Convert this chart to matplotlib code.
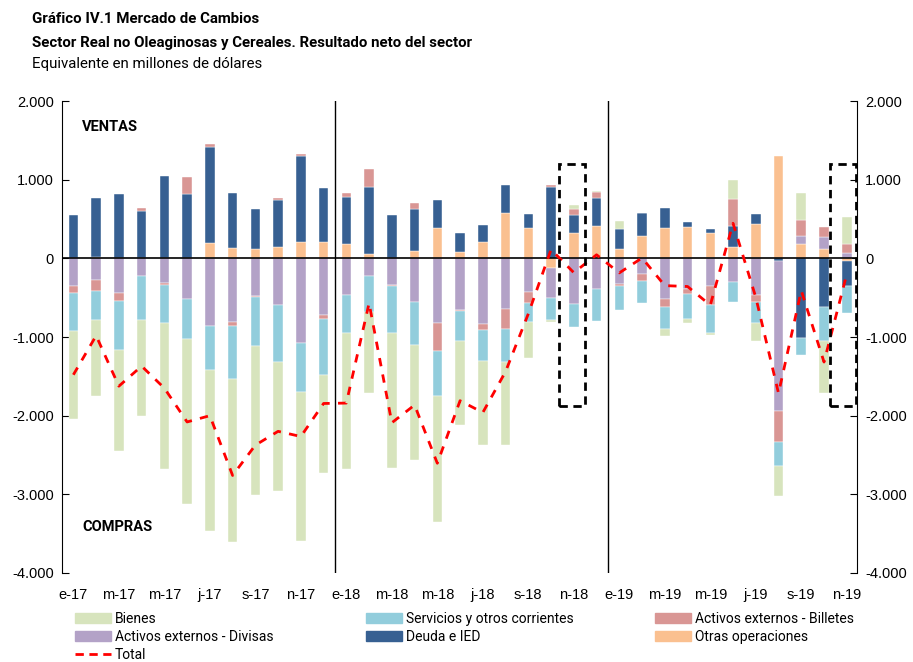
import numpy as np
import matplotlib
matplotlib.use("Agg")
import matplotlib.pyplot as plt
from matplotlib.patches import Patch, Rectangle
from matplotlib.lines import Line2D

# months e-17 .. n-19
months = ["e-17", "f-17", "m-17", "a-17", "m-17", "j-17", "j-17", "a-17", "s-17", "o-17", "n-17", "d-17",
          "e-18", "f-18", "m-18", "a-18", "m-18", "j-18", "j-18", "a-18", "s-18", "o-18", "n-18", "d-18",
          "e-19", "f-19", "m-19", "a-19", "m-19", "j-19", "j-19", "a-19", "s-19", "o-19", "n-19"]

otras = [0, 15, 0, 0, 0, 0, 191, 127, 119, 144, 203, 203,
         178, 51, 0, 89, 381, 76, 203, 572, 381, -127, 318, 407,
         119, 280, 381, 394, 318, 144, 432, 1297, 178, 119, -40]
deuda = [555, 748, 814, 597, 1042, 814, 1220, 699, 504, 593, 1094, 687,
         597, 851, 555, 534, 356, 242, 221, 356, 178, 911, 229, 356,
         250, 296, 255, 68, 55, 271, 127, -34, -1013, -619, -317]
divisas = [-356, -280, -441, -229, -314, -521, -864, -809, -483, -597, -1076, -720,
           -470, -229, -343, -555, -822, -653, -839, -644, -428, -381, -580, -394,
           -326, -203, -517, -390, -356, -305, -470, -1907, 110, 152, 74]
billetes = [-85, -140, -106, 39, -29, 216, 47, -55, -13, 26, 33, -51,
            51, 229, -13, 76, -356, -21, -72, -254, -140, 17, 76, 76,
            -21, -85, -106, -63, -241, 335, -85, -394, 195, 127, 106]
servicios = [-483, -368, -618, -559, -483, -504, -560, -670, -623, -721, -623, -712,
             -479, -457, -593, -547, -568, -377, -394, -420, -241, -280, -289, -398,
             -310, -280, -275, -322, -352, -250, -267, -300, -212, -428, -339]
bienes = [-1118, -958, -1280, -1212, -1852, -2093, -2038, -2067, -1885, -1644, -1898, -1250,
          -1725, -1026, -1712, -1457, -1607, -1062, -1074, -1049, -458, -26, 59, 13,
          106, 0, -85, -47, -26, 241, -225, -382, 343, -665, 350]
total = [-1480, -983, -1625, -1370, -1650, -2080, -2000, -2760, -2375, -2199, -2265, -1845,
         -1840, -570, -2090, -1865, -2605, -1810, -1960, -1440, -705, 112, -182, 45,
         -185, 5, -347, -358, -595, 445, -495, -1715, -410, -1318, -200]

# stacking order from zero outwards
series = [("Otras operaciones", otras, "#fac090"),
          ("Deuda e IED", deuda, "#376092"),
          ("Activos externos - Divisas", divisas, "#b3a2c7"),
          ("Activos externos - Billetes", billetes, "#d99694"),
          ("Servicios y otros corrientes", servicios, "#92cddc"),
          ("Bienes", bienes, "#d7e4bd")]

narrow = ["Roboto", "DejaVu Sans"]
plt.rcParams["font.family"] = ["Liberation Sans", "DejaVu Sans"]

fig = plt.figure(figsize=(9.13, 6.62), dpi=100)
ax = fig.add_axes([62 / 913, 89 / 662, (857 - 62) / 913, (573 - 101) / 662])

x = np.arange(len(months))
pos = np.zeros(len(months))
neg = np.zeros(len(months))
for name, vals, col in series:
    v = np.array(vals, dtype=float)
    bottom = np.where(v >= 0, pos, neg)
    ax.bar(x, v, 0.42, bottom=bottom, color=col, edgecolor="white", linewidth=0.3, zorder=2)
    pos += np.where(v >= 0, v, 0)
    neg += np.where(v < 0, v, 0)

ax.plot(x, total, color="#ff0000", lw=2, ls=(0, (3, 3)), zorder=4)

ax.axhline(0, color="black", lw=1.2, zorder=3)
for xv in [11.5, 23.5]:
    ax.axvline(xv, color="black", lw=1.0, zorder=3)

# dashed boxes highlighting nov-18 and nov-19
for x0, x1 in [(21.35, 22.5), (33.27, 34.4)]:
    ax.add_patch(Rectangle((x0, -1880), x1 - x0, 1880 + 1200, fill=False,
                           edgecolor="black", lw=2, ls=(0, (3, 2)), zorder=5))

ax.set_xlim(-0.5, 34.45)
ax.set_ylim(-4000, 2000)
yt = np.arange(-4000, 2001, 1000)
ax.set_yticks(yt)
ax.set_yticklabels([f"{v:,}".replace(",", ".") for v in yt], fontsize=10.5)
ax.tick_params(axis="y", direction="in", length=5, pad=6, right=True, labelright=True)
ax.set_xticks(x[::2])
ax.set_xticklabels(months[::2], fontsize=10.5)
ax.tick_params(axis="x", length=0, pad=11)
ax.spines["top"].set_visible(False)
ax.spines["bottom"].set_visible(False)

ax.text(0.38, 1669, "VENTAS", fontsize=10.5, fontweight="bold", va="center", family=narrow)
ax.text(0.38, -3420, "COMPRAS", fontsize=10.5, fontweight="bold", va="center", family=narrow)

fig.text(32 / 913, 1 - 19 / 662, "Gráfico IV.1 Mercado de Cambios", fontsize=10.8,
         fontweight="bold", va="center", family=narrow)
fig.text(32 / 913, 1 - 43 / 662, "Sector Real no Oleaginosas y Cereales. Resultado neto del sector",
         fontsize=10.8, fontweight="bold", va="center", family=narrow)
fig.text(32 / 913, 1 - 64 / 662, "Equivalente en millones de dólares", fontsize=10.8,
         va="center", family=narrow)

cols = dict((n, c) for n, _, c in series)
legend_cols = [
    (75, [Patch(color=cols["Bienes"]), Patch(color=cols["Activos externos - Divisas"]),
          Line2D([], [], color="#ff0000", lw=2, ls=(0, (3, 2)))],
     ["Bienes", "Activos externos - Divisas", "Total"]),
    (366, [Patch(color=cols["Servicios y otros corrientes"]), Patch(color=cols["Deuda e IED"])],
     ["Servicios y otros corrientes", "Deuda e IED"]),
    (655, [Patch(color=cols["Activos externos - Billetes"]), Patch(color=cols["Otras operaciones"])],
     ["Activos externos - Billetes", "Otras operaciones"]),
]
for xpx, handles, labels in legend_cols:
    fig.legend(handles, labels, loc="upper left", bbox_to_anchor=(xpx / 913, 1 - 612 / 662),
               frameon=False, borderpad=0, borderaxespad=0, handlelength=2.6, handletextpad=0.25,
               labelspacing=0.3, prop={"family": narrow, "size": 10})

fig.savefig("out.png", dpi=100)
